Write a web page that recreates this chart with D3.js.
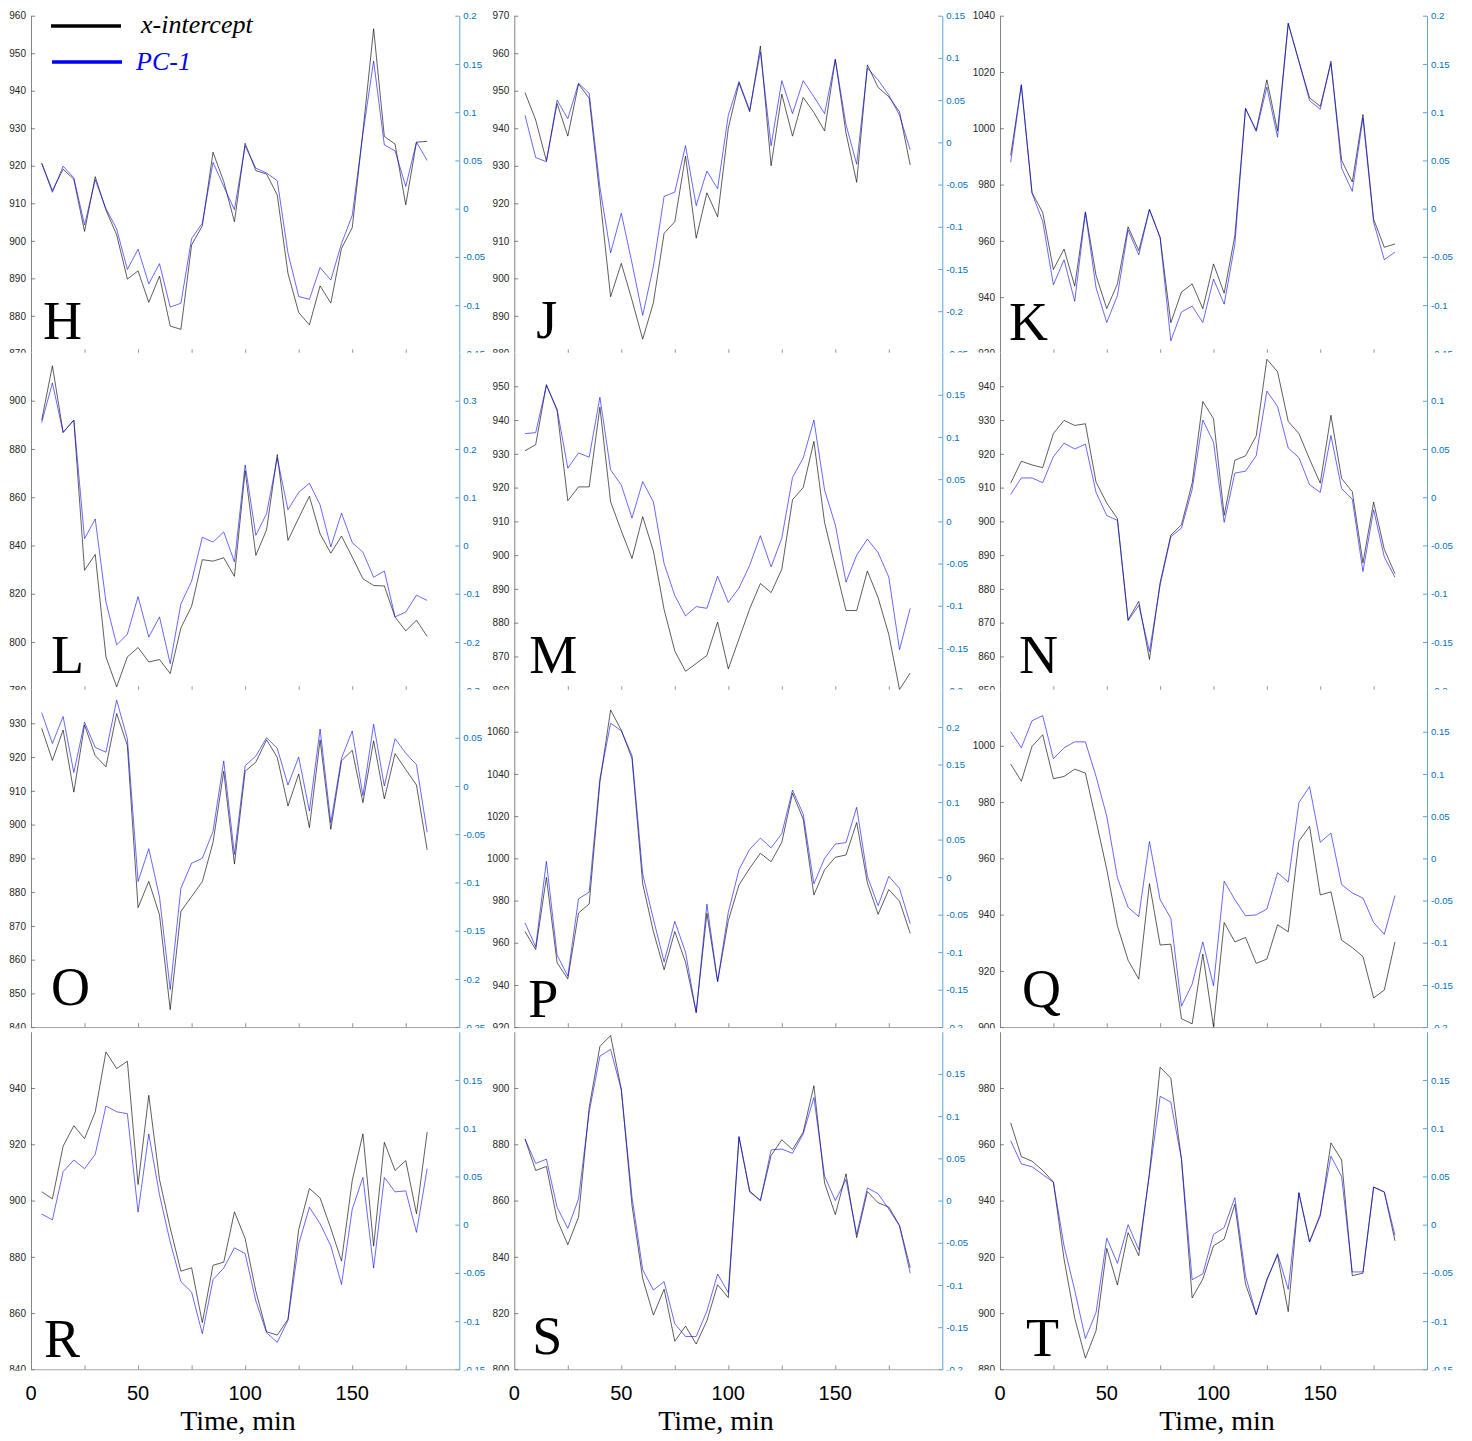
<!DOCTYPE html>
<html>
<head>
<meta charset="utf-8">
<script src="https://cdn.jsdelivr.net/npm/d3@7"></script>
<style>
body { margin: 0; background: #fff; }
</style>
</head>
<body>
<svg width="1472" height="1441"></svg>
<script>
// sampling times, min
const times = [5,10,15,20,25,30,35,40,45,50,55,60,65,70,75,80,85,90,95,100,105,110,115,120,125,130,135,140,145,150,155,160,165,170,175,180,185];
const letters = ['H','J','K','L','M','N','O','P','Q','R','S','T'];

const xIntH = [920.7,913.4,919.1,916.4,902.5,917.1,908.2,901.6,889.8,892.0,883.6,890.6,877.3,876.4,898.9,904.0,923.6,915.8,905.1,926.0,918.7,917.8,912.2,891.3,880.9,877.6,888.0,883.4,898.0,903.5,929.1,956.5,927.8,925.8,909.6,926.3,926.5];
const pc1H = [0.047,0.017,0.044,0.032,-0.017,0.030,0.000,-0.021,-0.063,-0.042,-0.078,-0.057,-0.102,-0.098,-0.031,-0.015,0.048,0.023,-0.001,0.065,0.042,0.037,0.029,-0.046,-0.091,-0.094,-0.061,-0.074,-0.036,-0.007,0.078,0.153,0.066,0.060,0.023,0.069,0.050];
const xIntJ = [949.5,942.2,931.3,946.6,937.9,951.8,948.0,921.8,895.1,904.0,894.2,883.8,893.5,912.0,915.1,932.6,910.7,922.8,916.4,940.0,952.1,944.4,961.9,930.0,949.1,937.9,948.2,944.2,939.3,958.4,938.7,925.6,956.9,950.9,948.4,944.4,930.2];
const pc1J = [0.032,-0.018,-0.023,0.050,0.028,0.070,0.058,-0.053,-0.131,-0.084,-0.143,-0.205,-0.147,-0.064,-0.059,-0.004,-0.075,-0.034,-0.055,0.032,0.072,0.038,0.107,-0.004,0.073,0.034,0.073,0.054,0.034,0.098,0.021,-0.026,0.088,0.074,0.056,0.032,-0.009];
const xIntK = [990.4,1015.5,977.1,970.1,949.8,957.1,943.9,970.3,947.7,935.9,944.7,965.0,956.5,971.2,961.2,930.9,941.8,944.7,935.9,951.8,941.4,961.8,1007.0,999.3,1017.2,999.0,1037.3,1023.7,1010.8,1007.8,1023.1,988.6,980.9,1004.9,967.7,957.7,958.9];
const pc1K = [0.048,0.128,0.016,-0.013,-0.079,-0.053,-0.096,-0.004,-0.082,-0.118,-0.090,-0.022,-0.048,-0.001,-0.030,-0.137,-0.107,-0.101,-0.118,-0.073,-0.099,-0.037,0.104,0.080,0.126,0.074,0.192,0.153,0.112,0.103,0.153,0.042,0.018,0.094,-0.014,-0.053,-0.045];
const xIntL = [892.0,914.5,886.9,892.0,829.7,836.3,793.8,781.4,793.8,797.7,791.7,792.7,786.9,805.8,814.8,834.1,833.5,834.9,827.2,871.0,835.9,846.5,877.7,842.1,851.4,860.4,844.8,836.8,843.9,835.2,826.2,823.4,823.2,810.3,804.6,809.0,802.3];
const pc1L = [0.255,0.337,0.234,0.260,0.014,0.055,-0.117,-0.206,-0.184,-0.106,-0.190,-0.148,-0.245,-0.121,-0.074,0.017,0.007,0.028,-0.034,0.167,0.021,0.066,0.181,0.074,0.110,0.129,0.084,-0.003,0.067,0.006,-0.014,-0.066,-0.053,-0.148,-0.138,-0.103,-0.114];
const xIntM = [930.9,932.7,950.5,942.8,916.1,920.2,920.2,943.8,915.8,907.2,899.0,911.4,901.2,883.9,871.6,865.6,867.9,870.3,880.2,866.3,875.2,884.1,891.6,888.9,895.8,916.4,920.0,933.7,909.6,896.6,883.6,883.6,895.3,887.4,876.5,860.2,865.1];
const pc1M = [0.104,0.105,0.161,0.133,0.063,0.081,0.076,0.147,0.061,0.043,0.004,0.047,0.023,-0.050,-0.088,-0.112,-0.101,-0.103,-0.065,-0.096,-0.079,-0.052,-0.017,-0.054,-0.020,0.052,0.075,0.120,0.037,-0.004,-0.072,-0.040,-0.021,-0.037,-0.066,-0.152,-0.103];
const xIntN = [911.3,917.8,916.7,915.9,926.0,929.9,928.4,928.9,911.6,905.4,900.8,870.8,876.3,859.1,881.9,895.9,899.0,911.3,935.5,930.4,901.8,918.1,919.4,925.3,948.0,944.3,929.6,926.0,918.4,911.3,931.4,912.7,908.8,887.7,905.7,891.7,884.5];
const pc1N = [0.003,0.020,0.020,0.015,0.042,0.056,0.050,0.055,0.005,-0.019,-0.024,-0.128,-0.112,-0.160,-0.091,-0.041,-0.032,0.008,0.080,0.057,-0.026,0.025,0.027,0.043,0.110,0.094,0.051,0.041,0.013,0.005,0.064,0.009,-0.002,-0.077,-0.013,-0.062,-0.083];
const xIntO = [928.5,919.0,928.0,909.6,929.5,920.4,917.1,932.9,923.4,875.4,883.2,873.3,845.2,874.3,878.7,883.1,894.7,915.8,888.3,915.8,918.5,925.1,919.9,905.5,915.0,899.1,925.1,898.6,918.9,922.0,906.5,924.8,907.6,921.0,916.3,911.7,892.5];
const pc1O = [0.076,0.044,0.072,0.014,0.066,0.040,0.035,0.089,0.049,-0.099,-0.065,-0.115,-0.211,-0.106,-0.080,-0.075,-0.047,0.026,-0.071,0.021,0.031,0.050,0.039,0.001,0.030,-0.026,0.059,-0.038,0.029,0.057,-0.010,0.064,0.000,0.049,0.034,0.022,-0.048];
const xIntP = [965.3,956.8,991.0,950.5,942.9,974.1,978.4,1036.0,1070.3,1060.7,1047.3,987.9,965.3,947.2,965.3,950.8,927.1,974.0,941.6,970.5,987.4,995.3,1002.4,998.4,1007.6,1030.9,1018.6,982.6,994.6,1000.5,1001.6,1017.0,988.3,973.5,985.2,979.7,964.5];
const pc1P = [-0.061,-0.093,0.021,-0.104,-0.132,-0.029,-0.020,0.131,0.205,0.195,0.162,0.004,-0.056,-0.113,-0.059,-0.100,-0.181,-0.036,-0.139,-0.047,0.010,0.037,0.052,0.039,0.058,0.116,0.084,-0.009,0.025,0.044,0.046,0.093,0.001,-0.038,0.001,-0.015,-0.062];
const xIntQ = [993.5,987.4,999.8,1003.9,988.3,989.1,991.7,990.3,973.4,956.1,936.0,923.8,917.1,951.0,929.2,929.5,903.0,901.2,926.0,900.2,937.2,930.3,931.9,922.7,924.2,936.4,933.9,966.1,971.4,947.0,948.1,930.9,928.3,925.1,910.4,913.2,930.3];
const pc1Q = [0.150,0.131,0.163,0.169,0.118,0.131,0.138,0.138,0.097,0.050,-0.023,-0.058,-0.069,0.020,-0.049,-0.071,-0.175,-0.149,-0.099,-0.151,-0.027,-0.049,-0.068,-0.067,-0.060,-0.017,-0.028,0.066,0.085,0.019,0.030,-0.031,-0.041,-0.047,-0.076,-0.090,-0.044];
const xIntR = [903.1,900.6,919.3,926.6,922.0,931.5,952.8,946.9,949.5,905.7,937.4,907.5,890.3,874.9,876.1,856.6,877.0,878.1,896.0,886.5,867.8,853.4,852.2,857.8,889.7,904.3,900.9,890.1,878.5,907.1,923.7,883.8,920.7,910.7,914.2,895.3,924.4];
const pc1R = [0.011,0.005,0.055,0.067,0.058,0.073,0.123,0.117,0.115,0.013,0.094,0.031,-0.018,-0.059,-0.070,-0.113,-0.057,-0.045,-0.024,-0.030,-0.079,-0.112,-0.122,-0.099,-0.020,0.018,0.001,-0.022,-0.062,0.016,0.049,-0.045,0.049,0.034,0.035,-0.008,0.058];
const xIntS = [881.9,870.7,872.1,853.2,844.3,854.1,893.1,914.8,918.6,899.6,858.3,832.3,819.3,828.5,810.0,815.4,809.0,817.3,830.1,825.5,882.5,863.4,860.0,876.0,881.6,878.1,884.3,900.8,866.2,855.0,869.5,846.8,863.2,859.2,857.7,851.2,836.1];
const pc1S = [0.073,0.044,0.049,-0.008,-0.033,0.002,0.105,0.171,0.179,0.131,0.004,-0.082,-0.106,-0.096,-0.146,-0.161,-0.161,-0.131,-0.087,-0.109,0.076,0.010,0.000,0.060,0.061,0.056,0.079,0.122,0.029,0.000,0.025,-0.040,0.015,0.008,-0.010,-0.030,-0.086];
const xIntT = [967.6,955.6,954.0,950.7,946.6,919.2,898.2,884.0,893.8,923.0,910.0,928.6,920.4,949.9,987.4,983.5,954.6,905.4,912.1,923.9,926.3,938.7,910.3,899.4,912.1,920.6,900.5,942.8,925.3,934.5,960.5,954.4,913.3,914.2,944.8,943.0,925.7];
const pc1T = [0.087,0.063,0.060,0.052,0.044,-0.022,-0.068,-0.118,-0.091,-0.014,-0.040,0.000,-0.026,0.052,0.133,0.127,0.068,-0.057,-0.051,-0.010,-0.003,0.028,-0.053,-0.093,-0.058,-0.030,-0.067,0.033,-0.018,0.011,0.071,0.050,-0.049,-0.049,0.039,0.034,-0.011];

// axis limits and tick steps, same order as letters
const leftDomains = [[870,960],[880,970],[920,1040],[780,920],[860,960],[850,950],[840,940],[920,1080],[900,1020],[840,960],[800,920],[880,1000]];
const leftSteps = [10,10,20,20,10,10,10,20,20,20,20,20];
const rightDomains = [[-0.15,0.2],[-0.25,0.15],[-0.15,0.2],[-0.3,0.4],[-0.2,0.2],[-0.2,0.15],[-0.25,0.1],[-0.2,0.25],[-0.2,0.2],[-0.15,0.2],[-0.2,0.2],[-0.15,0.2]];
const rightSteps = [0.05,0.05,0.05,0.1,0.05,0.05,0.05,0.05,0.05,0.05,0.05,0.05];
const timeTicks = [25,50,75,100,125,150,175];
const timeLabels = [0,50,100,150];

const xIntAll = [xIntH,xIntJ,xIntK,xIntL,xIntM,xIntN,xIntO,xIntP,xIntQ,xIntR,xIntS,xIntT];
const pc1All = [pc1H,pc1J,pc1K,pc1L,pc1M,pc1N,pc1O,pc1P,pc1Q,pc1R,pc1S,pc1T];

// layout
const colLeft = [31, 514.3, 1000];
const colW = [428.3, 428, 427];
const rowTop = [15.7, 352.5, 689.5, 1031.7];
const rowH = 337.7;
const titleX = [238, 716, 1217];
const letterOff = [[12,-14],[22,-15],[9,-13],[20,-17],[15,-17],[19,-17],[20,-22],[14,-10],[22,-20],[13,-12],[18,-15],[26,-13]];

const sans = "'Liberation Sans', Arial, Helvetica, sans-serif";
const serif = "'Liberation Serif', 'Times New Roman', serif";
const blueAxis = '#0072BD';

const svg = d3.select('svg');
const fmt = d => String(Math.round(d * 1000) / 1000);

function ticksFor(dom, step, dropTop) {
  const n = Math.round((dom[1] - dom[0]) / step);
  let v = d3.range(0, n + 1).map(k => +(dom[0] + k * step).toFixed(3));
  if (dropTop) v = v.slice(0, -1);
  return v;
}

letters.forEach((name, i) => {
  const r = Math.floor(i / 3), c = i % 3;
  const x0 = colLeft[c], y0 = rowTop[r], W = colW[c];
  const x = d3.scaleLinear().domain([0, 200]).range([x0, x0 + W]);
  const yL = d3.scaleLinear().domain(leftDomains[i]).range([y0 + rowH, y0]);
  const yR = d3.scaleLinear().domain(rightDomains[i]).range([y0 + rowH, y0]);

  const clipTop = r === 0 ? 0 : y0;
  svg.append('clipPath').attr('id', 'clip' + i)
    .append('rect')
    .attr('x', x0 - 29).attr('y', clipTop)
    .attr('width', W + 80).attr('height', y0 + rowH + 1 - clipTop);

  const g = svg.append('g').attr('clip-path', `url(#clip${i})`);
  g.append('rect')
    .attr('x', x0 - 28).attr('y', clipTop)
    .attr('width', W + 80).attr('height', y0 + rowH + 1 - clipTop)
    .attr('fill', '#fff');

  // bottom axis, ticks only
  const gx = g.append('g').attr('transform', `translate(0,${y0 + rowH})`)
    .call(d3.axisBottom(x).tickValues(timeTicks).tickSizeInner(-4).tickSizeOuter(0).tickFormat(''));
  gx.select('.domain').attr('stroke', '#777').attr('stroke-width', 0.8);
  gx.selectAll('.tick line').attr('stroke', '#777').attr('stroke-width', 0.8);

  // left axis
  const gl = g.append('g').attr('transform', `translate(${x0},0)`)
    .call(d3.axisLeft(yL).tickValues(ticksFor(leftDomains[i], leftSteps[i], r > 0))
      .tickSizeInner(-4).tickSizeOuter(0).tickPadding(5).tickFormat(fmt));
  gl.select('.domain').attr('stroke', '#666').attr('stroke-width', 0.8);
  gl.selectAll('.tick line').attr('stroke', '#666').attr('stroke-width', 0.8);
  gl.selectAll('text').attr('fill', '#262626').style('font', `10px ${sans}`);

  // right axis
  const gr = g.append('g').attr('transform', `translate(${x0 + W},0)`)
    .call(d3.axisRight(yR).tickValues(ticksFor(rightDomains[i], rightSteps[i], r > 0))
      .tickSizeInner(-4).tickSizeOuter(0).tickPadding(4).tickFormat(fmt));
  gr.select('.domain').attr('stroke', '#4a9ad6').attr('stroke-width', 0.9);
  gr.selectAll('.tick line').attr('stroke', '#4a9ad6').attr('stroke-width', 0.9);
  gr.selectAll('text').attr('fill', blueAxis).style('font', `9.6px ${sans}`);

  // series
  const lineL = d3.line().x((d, j) => x(times[j])).y(d => yL(d));
  const lineR = d3.line().x((d, j) => x(times[j])).y(d => yR(d));
  g.append('path').datum(xIntAll[i])
    .attr('d', lineL).attr('fill', 'none')
    .attr('stroke', '#000').attr('stroke-opacity', 0.75).attr('stroke-width', 0.85);
  g.append('path').datum(pc1All[i])
    .attr('d', lineR).attr('fill', 'none')
    .attr('stroke', '#0000ff').attr('stroke-opacity', 0.7).attr('stroke-width', 0.85);

  // panel letter
  g.append('text')
    .attr('x', x0 + letterOff[i][0]).attr('y', y0 + rowH + letterOff[i][1])
    .style('font', `54px ${serif}`).attr('fill', '#000')
    .text(name);

  // legend in first panel
  if (i === 0) {
    const leg = g.append('g');
    leg.append('line').attr('x1', 51).attr('x2', 121).attr('y1', 26).attr('y2', 26)
      .attr('stroke', '#000').attr('stroke-width', 3.5);
    leg.append('text').attr('x', 141).attr('y', 33)
      .style('font', `italic 26px ${serif}`).attr('fill', '#000').text('x-intercept');
    leg.append('line').attr('x1', 52).attr('x2', 122).attr('y1', 62).attr('y2', 62)
      .attr('stroke', '#0000ff').attr('stroke-width', 3.5);
    leg.append('text').attr('x', 136).attr('y', 70)
      .style('font', `italic 26px ${serif}`).attr('fill', '#0000ff').text('PC-1');
  }

  // time labels under bottom row
  if (r === 3) {
    svg.append('g').selectAll('text').data(timeLabels).join('text')
      .attr('x', d => x(d)).attr('y', 1400)
      .attr('text-anchor', 'middle')
      .style('font', `20px ${sans}`).attr('fill', '#000')
      .text(d => d);
    svg.append('text')
      .attr('x', titleX[c]).attr('y', 1430)
      .attr('text-anchor', 'middle')
      .style('font', `28px ${serif}`).attr('fill', '#000')
      .text('Time, min');
  }
});
</script>
</body>
</html>
